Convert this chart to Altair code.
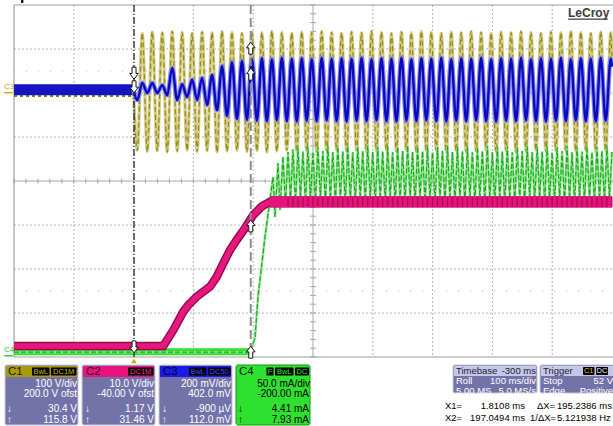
import altair as alt
import pandas as pd

FONT_N = "Liberation Sans Narrow, Arial Narrow, Liberation Sans, Arial, sans-serif"
FONT = "Liberation Sans, Arial, sans-serif"

# ---------------- waveform data: time in ms (100 ms/div), amplitude in screen divisions ----
# C1 (yellow, line voltage) and C3 (blue) extrema after the trigger
yb_t = [0.0,
    6.2, 14.5, 22.9, 31.2, 39.5, 47.9, 56.2, 64.5, 72.9, 81.2, 89.5, 97.9,
    106.2, 114.5, 122.9, 131.2, 139.5, 147.9, 156.2, 164.5, 172.9, 181.2, 189.5, 197.9,
    206.2, 214.5, 222.9, 231.2, 239.5, 247.9, 256.2, 264.5, 272.9, 281.2, 289.5, 297.9,
    306.2, 314.5, 322.9, 331.2, 339.5, 347.9, 356.2, 364.5, 372.9, 381.2, 389.5, 397.9,
    406.2, 414.5, 422.9, 431.2, 439.5, 447.9, 456.2, 464.5, 472.9, 481.2, 489.5, 497.9,
    506.2, 514.5, 522.9, 531.2, 539.5, 547.9, 556.2, 564.5, 572.9, 581.2, 589.5, 597.9,
    606.2, 614.5, 622.9, 631.2, 639.5, 647.9, 656.2, 664.5, 672.9, 681.2, 689.5, 697.9,
    706.2, 714.5, 722.9, 731.2, 739.5, 747.9, 756.2, 764.5, 772.9, 781.2, 789.5, 797.9,
    800.0]
c1_v = [2.00,
    0.70, 3.36, 0.67, 3.39, 0.69, 3.37, 0.66, 3.40,
    0.68, 3.38, 0.70, 3.36, 0.67, 3.39, 0.69, 3.37,
    0.66, 3.40, 0.68, 3.38, 0.70, 3.36, 0.67, 3.39,
    0.69, 3.37, 0.66, 3.40, 0.68, 3.38, 0.70, 3.36,
    0.67, 3.39, 0.69, 3.37, 0.66, 3.40, 0.68, 3.38,
    0.70, 3.36, 0.67, 3.39, 0.69, 3.37, 0.66, 3.40,
    0.68, 3.38, 0.70, 3.36, 0.67, 3.39, 0.69, 3.37,
    0.66, 3.40, 0.68, 3.38, 0.70, 3.36, 0.67, 3.39,
    0.69, 3.37, 0.66, 3.40, 0.68, 3.38, 0.70, 3.36,
    0.67, 3.39, 0.69, 3.37, 0.66, 3.40, 0.68, 3.38,
    0.70, 3.36, 0.67, 3.39, 0.69, 3.37, 0.66, 3.40,
    0.68, 3.38, 0.70, 3.36, 0.67, 3.39, 0.69, 3.37,
    2.70]
c3_v = [2.07,
    1.84, 2.23, 2.00, 2.23, 2.00, 2.18, 1.95, 2.57,
    1.84, 2.20, 1.91, 2.30, 1.84, 2.34, 1.73, 2.41,
    1.61, 2.61, 1.48, 2.70, 1.41, 2.73, 1.39, 2.77,
    1.37, 2.79, 1.36, 2.77, 1.38, 2.80, 1.36, 2.78,
    1.35, 2.79, 1.37, 2.77, 1.36, 2.80, 1.38, 2.78,
    1.36, 2.79, 1.35, 2.78, 1.37, 2.80, 1.36, 2.77,
    1.38, 2.79, 1.36, 2.78, 1.35, 2.80, 1.37, 2.77,
    1.36, 2.79, 1.38, 2.78, 1.36, 2.80, 1.35, 2.77,
    1.37, 2.79, 1.36, 2.78, 1.38, 2.80, 1.36, 2.77,
    1.35, 2.79, 1.37, 2.78, 1.36, 2.80, 1.38, 2.77,
    1.36, 2.79, 1.35, 2.78, 1.37, 2.80, 1.36, 2.77,
    1.38, 2.79, 1.36, 2.78, 1.35, 2.80, 1.37, 2.78,
    2.60]
# before the trigger
c1_pre_t = [-200.0, 0.7]
c1_pre_v = [1.93, 1.93]
c3_pre_t = [-200.0, 0.7]
c3_pre_lo = [1.95, 1.95]
c3_pre_hi = [2.20, 2.20]

# C4 (green, current): flat, steep rise, then 120 Hz ripple
green_t = [-200.0, 194.6, 203.0, 208.0, 214.7, 219.7, 228.1, 233.1, 236.5, 241.5, 244.8, 249.8, 254.0,
    258.2, 262.4, 266.5, 270.7, 274.9, 279.0, 283.2, 287.4, 291.5, 295.7, 299.9, 304.0,
    308.2, 312.4, 316.5, 320.7, 324.9, 329.0, 333.2, 337.4, 341.5, 345.7, 349.9, 354.0,
    358.2, 362.4, 366.5, 370.7, 374.9, 379.0, 383.2, 387.4, 391.5, 395.7, 399.9, 404.0,
    408.2, 412.4, 416.5, 420.7, 424.9, 429.0, 433.2, 437.4, 441.5, 445.7, 449.9, 454.0,
    458.2, 462.4, 466.5, 470.7, 474.9, 479.0, 483.2, 487.4, 491.5, 495.7, 499.9, 504.0,
    508.2, 512.4, 516.5, 520.7, 524.9, 529.0, 533.2, 537.4, 541.5, 545.7, 549.9, 554.0,
    558.2, 562.4, 566.5, 570.7, 574.9, 579.0, 583.2, 587.4, 591.5, 595.7, 599.9, 604.0,
    608.2, 612.4, 616.5, 620.7, 624.9, 629.0, 633.2, 637.4, 641.5, 645.7, 649.9, 654.0,
    658.2, 662.4, 666.5, 670.7, 674.9, 679.0, 683.2, 687.4, 691.5, 695.7, 699.9, 704.0,
    708.2, 712.4, 716.5, 720.7, 724.9, 729.0, 733.2, 737.4, 741.5, 745.7, 749.9, 754.0,
    758.2, 762.4, 766.5, 770.7, 774.9, 779.0, 783.2, 787.4, 791.5, 795.7, 799.9]
green_v = [-3.89, -3.89, -3.57, -2.64, -1.86, -1.27, -0.43, 0.09, -0.82, 0.41, -0.66, 0.55, -0.55,
    0.66, -0.44, 0.72, -0.52, 0.78, -0.40, 0.67, -0.53, 0.79, -0.41, 0.66, -0.51,
    0.77, -0.39, 0.68, -0.52, 0.80, -0.41, 0.66, -0.50, 0.78, -0.40, 0.67, -0.53,
    0.79, -0.42, 0.65, -0.51, 0.77, -0.40, 0.68, -0.52, 0.80, -0.39, 0.66, -0.53,
    0.78, -0.41, 0.67, -0.50, 0.79, -0.40, 0.65, -0.52, 0.77, -0.42, 0.68, -0.51,
    0.80, -0.40, 0.66, -0.53, 0.78, -0.39, 0.67, -0.52, 0.79, -0.41, 0.65, -0.50,
    0.77, -0.40, 0.68, -0.52, 0.80, -0.42, 0.66, -0.51, 0.78, -0.40, 0.67, -0.53,
    0.79, -0.41, 0.65, -0.52, 0.77, -0.39, 0.68, -0.50, 0.80, -0.40, 0.66, -0.52,
    0.78, -0.42, 0.67, -0.51, 0.79, -0.40, 0.65, -0.53, 0.77, -0.41, 0.68, -0.52,
    0.80, -0.39, 0.66, -0.50, 0.78, -0.40, 0.67, -0.52, 0.79, -0.42, 0.65, -0.51,
    0.77, -0.40, 0.68, -0.53, 0.80, -0.41, 0.66, -0.52, 0.78, -0.39, 0.67, -0.50,
    0.79, -0.40, 0.65, -0.52, 0.77, -0.42, 0.68, -0.51, 0.80, -0.40, 0.66]
green_base_t = [-200.0, 194.6]
green_base_v = [-3.88, -3.88]

# C2 (magenta, DC bus): flat, ramp, then flat band
mag_t = [-200.0, 49.7, 66.4, 83.1, 91.5, 105.5, 127.8, 139.0, 150.0, 161.2, 172.4, 186.3, 200.2, 214.2, 228.1, 800.0]
mag_v = [-3.75, -3.75, -3.39, -2.97, -2.82, -2.63, -2.40, -2.18, -1.87, -1.57, -1.34, -1.07, -0.77, -0.58, -0.47, -0.47]
mag_band_t = [228.1, 800.0]
mag_band_lo = [-0.61, -0.61]
mag_band_hi = [-0.34, -0.34]

# cursors and markers
cursor_x1 = 0.7
cursor_x2 = 195.9
arrows_down = [(0.7, 2.45), (0.7, 2.14), (0.7, -3.77)]
arrows_up = [(195.9, 3.02), (195.9, 2.43), (195.9, -1.02), (195.9, -3.89)]

# graticule
grid_t = [-100, 0, 100, 200, 400, 500, 600, 700]
grid_v = [-3, -2, -1, 1, 2, 3]
half_v = [2.5, -2.5]

# ---------------- scales ----------------
XS = alt.Scale(domain=[-200, 800], nice=False, zero=False)
YS = alt.Scale(domain=[-4, 4], nice=False, zero=False)
X = alt.X("t:Q", scale=XS, axis=None)
Y = alt.Y("v:Q", scale=YS, axis=None)


def px_t(px):
    return (px - 133.6) / 0.598


def py_v(py):
    return 4 - (py - 5) / 44.0


def df2(ts, vs):
    return pd.DataFrame(list(zip(ts, vs)), columns=["t", "v"])


def line(df, color, width, dash=None, opacity=1.0, interp="linear"):
    kw = dict(color=color, strokeWidth=width, opacity=opacity, strokeCap="butt", interpolate=interp)
    if dash:
        kw["strokeDash"] = dash
    return alt.Chart(df).mark_line(**kw).encode(x=X, y=Y)


layers = []

# graticule
layers.append(alt.Chart(pd.DataFrame({"t": grid_t})).mark_rule(color="#b4b4b4", strokeWidth=1, strokeDash=[2, 2])
              .encode(x=X, y=alt.value(0), y2=alt.value(352)))
layers.append(alt.Chart(pd.DataFrame({"v": grid_v})).mark_rule(color="#b4b4b4", strokeWidth=1, strokeDash=[2, 2])
              .encode(y=Y, x=alt.value(0), x2=alt.value(598)))
layers.append(alt.Chart(pd.DataFrame({"v": half_v})).mark_rule(color="#b8b8b8", strokeWidth=1, strokeDash=[1, 11])
              .encode(y=Y, x=alt.value(0), x2=alt.value(598)))
layers.append(alt.Chart(pd.DataFrame({"t": [300]})).mark_rule(color="#a8a8a8", strokeWidth=1)
              .encode(x=X, y=alt.value(0), y2=alt.value(352)))
layers.append(alt.Chart(pd.DataFrame({"v": [0]})).mark_rule(color="#a8a8a8", strokeWidth=1)
              .encode(y=Y, x=alt.value(0), x2=alt.value(598)))
tick_h = pd.DataFrame({"t": [-200 + 20 * k for k in range(51)]})
tick_h["v"] = -0.055
tick_h["v2"] = 0.055
layers.append(alt.Chart(tick_h).mark_rule(color="#a8a8a8", strokeWidth=1)
              .encode(x=X, y=Y, y2="v2:Q"))
tick_v = pd.DataFrame({"v": [-4 + 0.2 * k for k in range(41)]})
tick_v["t"] = 295.0
tick_v["t2"] = 305.0
layers.append(alt.Chart(tick_v).mark_rule(color="#a8a8a8", strokeWidth=1)
              .encode(y=Y, x=X, x2="t2:Q"))
# frame (top, left, bottom)
layers.append(alt.Chart(pd.DataFrame({"v": [4, -4]})).mark_rule(color="#a0a0a0", strokeWidth=1.2)
              .encode(y=Y, x=alt.value(0), x2=alt.value(599)))
layers.append(alt.Chart(pd.DataFrame({"t": [-200]})).mark_rule(color="#a0a0a0", strokeWidth=1.2)
              .encode(x=X, y=alt.value(0), y2=alt.value(352)))

# C1 yellow
layers.append(line(df2(c1_pre_t, c1_pre_v), "#8a8200", 2, dash=[3, 3]))
layers.append(line(df2(yb_t, c1_v), "#d2cb96", 3.2, interp="monotone"))
layers.append(line(df2(yb_t, c1_v), "#9a9000", 1.3, dash=[5, 3], interp="monotone"))
# C3 blue
pre = pd.DataFrame({"t": c3_pre_t, "v": c3_pre_lo, "v2": c3_pre_hi})
layers.append(alt.Chart(pre).mark_area(color="#1414c4").encode(x=X, y=Y, y2="v2:Q"))
layers.append(line(df2(yb_t, c3_v), "#8c8ce6", 4.6, interp="monotone"))
layers.append(line(df2(yb_t, c3_v), "#0a0abf", 2.4, interp="monotone"))
# C4 green
layers.append(line(df2(green_base_t, green_base_v), "#2fe02f", 7))
layers.append(line(df2(green_t, green_v), "#8ee48e", 2.4))
layers.append(line(df2(green_t, green_v), "#18a818", 1.1, dash=[5, 2]))
# C2 magenta
layers.append(line(df2(mag_t, mag_v), "#9a0c4a", 8.5))
layers.append(line(df2(mag_t, mag_v), "#e8177f", 5.5))
band = pd.DataFrame({"t": mag_band_t, "v": mag_band_lo, "v2": mag_band_hi})
layers.append(alt.Chart(band).mark_area(color="#e3157d").encode(x=X, y=Y, y2="v2:Q"))
stripes = pd.DataFrame({"t": green_t[13::2]})
stripes["v"] = -0.37
stripes["v2"] = -0.59
layers.append(alt.Chart(stripes).mark_rule(color="#9c0c48", strokeWidth=1.3, opacity=0.8)
              .encode(x=X, y=Y, y2="v2:Q"))

# cursors
layers.append(alt.Chart(pd.DataFrame({"t": [cursor_x1]})).mark_rule(color="#262638", strokeWidth=1.3, strokeDash=[7, 2, 1, 2])
              .encode(x=X, y=alt.value(0), y2=alt.value(352)))
layers.append(alt.Chart(pd.DataFrame({"t": [cursor_x2]})).mark_rule(color="#8c8c8c", strokeWidth=2, strokeDash=[9, 4])
              .encode(x=X, y=alt.value(0), y2=alt.value(352)))
UP = "M-0.33,1 L0.33,1 L0.33,-0.05 L0.72,-0.05 L0,-1 L-0.72,-0.05 L-0.33,-0.05 Z"
DOWN = "M-0.33,-1 L0.33,-1 L0.33,0.05 L0.72,0.05 L0,1 L-0.72,0.05 L-0.33,0.05 Z"
layers.append(alt.Chart(pd.DataFrame(arrows_up, columns=["t", "v"])).mark_point(
    shape=UP, size=144, filled=True, fill="white", stroke="#1a1a1a", strokeWidth=1, opacity=1).encode(x=X, y=Y))
layers.append(alt.Chart(pd.DataFrame(arrows_down, columns=["t", "v"])).mark_point(
    shape=DOWN, size=144, filled=True, fill="white", stroke="#1a1a1a", strokeWidth=1, opacity=1).encode(x=X, y=Y))
# trigger marker under the grid
layers.append(alt.Chart(pd.DataFrame({"t": [cursor_x1], "v": [py_v(361)]})).mark_point(
    shape="triangle-up", size=30, filled=True, color="#c9a800", opacity=1).encode(x=X, y=Y))

# ---------------- descriptor panel (page pixel layout) ----------------
BODY = "#7373aa"
EDGE = "#c9c9de"
HEAD = "#c6c6e8"
rects = [
    # x1, x2, y1, y2, fill, stroke
    (5, 78, 365, 425, BODY, EDGE),
    (82, 155, 365, 425, BODY, EDGE),
    (159, 232, 365, 425, BODY, EDGE),
    (236, 310, 365, 425, "#2fe12f", "#189418"),
    (453, 537, 365, 393, BODY, EDGE),
    (540, 618, 365, 393, BODY, EDGE),
]
plain = [
    (6, 77, 366, 377, "#a99b07"),
    (83, 154, 366, 377, "#e8147e"),
    (160, 231, 366, 377, "#1b1be6"),
    (454, 536, 366, 376, HEAD),
    (541, 617, 366, 376, HEAD),
    (32, 49.5, 367.5, 375.5, "#000000"),
    (51, 76.5, 367.5, 375.5, "#000000"),
    (128, 153.5, 367.5, 375.5, "#000000"),
    (189, 206.5, 367.5, 375.5, "#000000"),
    (208, 230.5, 367.5, 375.5, "#000000"),
    (266.5, 273.5, 367.5, 375.5, "#000000"),
    (275, 293.5, 367.5, 375.5, "#000000"),
    (295, 309, 367.5, 375.5, "#000000"),
    (583, 594.5, 367, 375, "#000000"),
    (596, 608, 367, 375, "#000000"),
    (21, 23.5, 0, 3, "#000000"),
    (4, 13, 92, 93.5, "#c8b400"),
    (4, 13, 355, 356.5, "#30d030"),
    (568, 608, 18.5, 19.8, "#3c3c3c"),
]
rdf = pd.DataFrame(rects, columns=["x1", "x2", "y1", "y2", "fill", "stroke"])
pdf = pd.DataFrame(plain, columns=["x1", "x2", "y1", "y2", "fill"])
for d in (rdf, pdf):
    d["t"] = d["x1"].map(px_t)
    d["t2"] = d["x2"].map(px_t)
    d["v"] = d["y1"].map(py_v)
    d["v2"] = d["y2"].map(py_v)
layers.append(alt.Chart(rdf).mark_rect(cornerRadius=2, strokeWidth=1).encode(
    x=X, x2="t2:Q", y=Y, y2="v2:Q",
    color=alt.Color("fill:N", scale=None), stroke=alt.Stroke("stroke:N", scale=None)))
layers.append(alt.Chart(pdf).mark_rect(cornerRadius=1).encode(
    x=X, x2="t2:Q", y=Y, y2="v2:Q", color=alt.Color("fill:N", scale=None)))

W = "#ffffff"
K = "#000000"
texts_left = [
    # x, y, text, colour, size
    (8, 371.5, "C1", "#15130a", 11.5), (86, 371.5, "C2", "#2a0616", 11.5),
    (163, 371.5, "C3", "#05052a", 11.5), (239, 371.5, "C4", "#0a200a", 11.5),
    (7, 409, "↓", W, 10), (7, 420, "↑", W, 10),
    (85, 409, "↓", W, 10), (85, 420, "↑", W, 10),
    (162, 409, "↓", W, 10), (162, 420, "↑", W, 10),
    (238, 409, "↓", K, 10), (238, 420, "↑", K, 10),
    (456, 371, "Timebase", "#1c1c38", 9.5), (456, 381, "Roll", W, 9.5), (456, 390.5, "5.00 MS", W, 9.5),
    (543, 371, "Trigger", "#1c1c38", 9.5), (543, 381, "Stop", W, 9.5), (543, 390.5, "Edge", W, 9.5),
    (4, 87, "C3", "#b8a810", 8), (4, 350, "C4", "#28c028", 8),
]
texts_right = [
    (77, 383.5, "100 V/div", W, 10), (77, 393.5, "200.0 V ofst", W, 10),
    (77, 409, "30.4 V", W, 10), (77, 420, "115.8 V", W, 10),
    (154, 383.5, "10.0 V/div", W, 10), (154, 393.5, "-40.00 V ofst", W, 10),
    (154, 409, "1.17 V", W, 10), (154, 420, "31.46 V", W, 10),
    (231, 383.5, "200 mV/div", W, 10), (231, 393.5, "402.0 mV", W, 10),
    (231, 409, "-900 µV", W, 10), (231, 420, "112.0 mV", W, 10),
    (310, 383.5, "50.0 mA/div", K, 10), (309, 394, "-200.00 mA", K, 10),
    (309, 409, "4.41 mA", K, 10), (309, 420, "7.93 mA", K, 10),
    (536, 371, "-300 ms", "#1c1c38", 9.5), (536, 381, "100 ms/div", W, 9.5), (536, 390.5, "5.0 MS/s", W, 9.5),
    (613, 381, "52 V", W, 9.5), (613, 390.5, "Positive", W, 9.5),
]
texts_badge = [
    (40.7, 371.7, "BwL", "#cdb800"), (63.7, 371.7, "DC1M", "#cdb800"),
    (140.7, 371.7, "DC1M", "#ff2a92"),
    (197.7, 371.7, "BwL", "#4646ff"), (219.2, 371.7, "DC50", "#4646ff"),
    (270, 371.7, "F", "#33e033"), (284.2, 371.7, "BwL", "#33e033"), (302, 371.7, "DC", "#33e033"),
    (588.7, 371.2, "C1", "#d8c800"), (602, 371.2, "DC", "#e8e8e8"),
]
meas_left = [
    (445, 405.5, "X1="), (445, 417.5, "X2="),
    (537, 405.5, "ΔX="), (530, 417.5, "1/ΔX="),
    (557, 405.5, "195.2386 ms"), (557, 417.5, "5.121938 Hz"),
]
meas_right = [
    (525, 405.5, "1.8108 ms"), (525, 417.5, "197.0494 ms"),
]


def tdf(rows, cols):
    d = pd.DataFrame(rows, columns=cols)
    d["t"] = d["x"].map(px_t)
    d["v"] = d["y"].map(py_v)
    return d


tl = tdf(texts_left, ["x", "y", "label", "col", "fs"])
tr = tdf(texts_right, ["x", "y", "label", "col", "fs"])
tb = tdf(texts_badge, ["x", "y", "label", "col"])
ml = tdf(meas_left, ["x", "y", "label"])
mr = tdf(meas_right, ["x", "y", "label"])

for d, al in ((tl, "left"), (tr, "right")):
    layers.append(alt.Chart(d).mark_text(align=al, baseline="middle", font=FONT_N).encode(
        x=X, y=Y, text="label:N", color=alt.Color("col:N", scale=None), size=alt.Size("fs:Q", scale=None)))
layers.append(alt.Chart(tb).mark_text(align="center", baseline="middle", font=FONT_N, fontSize=7.5).encode(
    x=X, y=Y, text="label:N", color=alt.Color("col:N", scale=None)))
layers.append(alt.Chart(ml).mark_text(align="left", baseline="middle", font=FONT, fontSize=9.5, color="#000000").encode(
    x=X, y=Y, text="label:N"))
layers.append(alt.Chart(mr).mark_text(align="right", baseline="middle", font=FONT, fontSize=9.5, color="#000000").encode(
    x=X, y=Y, text="label:N"))
logo = tdf([(568, 12.5, "LeCroy")], ["x", "y", "label"])
layers.append(alt.Chart(logo).mark_text(align="left", baseline="middle", font=FONT, fontSize=12,
                                        fontWeight="bold", color="#3c3c3c").encode(x=X, y=Y, text="label:N"))

chart = alt.layer(*layers).properties(
    width=598, height=352,
    padding={"left": 14, "top": 5, "right": 1, "bottom": 69},
    autosize=alt.AutoSizeParams(type="none"),
    background="white",
).configure_view(stroke=None)

chart.save("out.html", embed_options={"renderer": "svg", "actions": False})
